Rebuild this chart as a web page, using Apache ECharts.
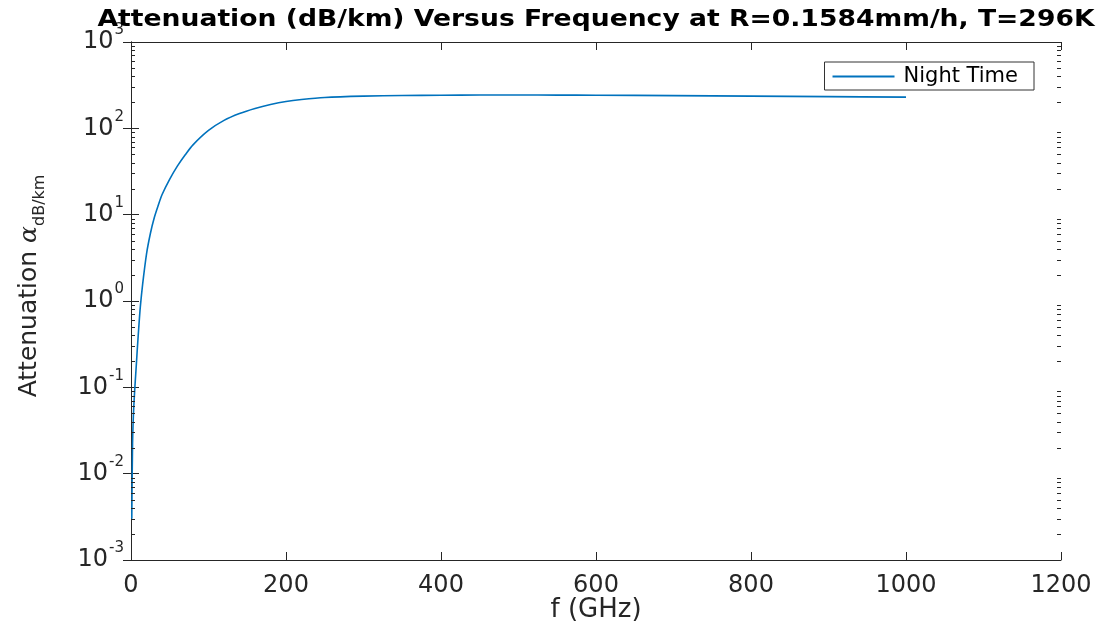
<!DOCTYPE html>
<html><head><meta charset="utf-8">
<script src="https://cdn.jsdelivr.net/npm/echarts@6/dist/echarts.min.js"></script>
<style>html,body{margin:0;padding:0;background:#fff}#c{width:1103px;height:626px}</style>
</head><body><div id="c"></div>
<script>
const freqGHz = [1,2,3,4,5,6,7,8,10,12,15,20,25,30,35,40,50,60,70,80,100,120,140,160,180,200,220,250,300,350,400,450,500,550,600,700,800,900,1000];
const nightAtten = [0.003,0.022,0.045,0.07,0.1,0.138,0.19,0.266,0.49,0.85,1.56,3.5,6.05,9.2,12.7,17,25.8,36.7,49.4,64.4,94.6,123.6,148.5,170,189,205,216,228,236,240,242,243,243,242.5,242,239,236,233,230];
const xTicks = [0,200,400,600,800,1000,1200];
const yDecades = [-3,-2,-1,0,1,2,3];
const seriesName = 'Night Time';
const titleText = 'Attenuation (dB/km) Versus Frequency at R=0.1584mm/h, T=296K';

const minorVals = [];
for (let e = -3; e < 3; e++) for (let m = 2; m <= 9; m++) minorVals.push([0, m * Math.pow(10, e)]);

const FONT = 'DejaVu Sans';
const AX = '#262626';
const chart = echarts.init(document.getElementById('c'));
const lineData = freqGHz.map((f, i) => [f, nightAtten[i]]);

chart.setOption({
  animation: false,
  backgroundColor: '#fff',
  graphic: [{
    type: 'text', x: 596, y: 20, scaleX: 1.157, z: 10,
    style: {text: titleText, align: 'center', verticalAlign: 'middle',
      fontFamily: FONT, fontWeight: 'bold', fontSize: 23, fill: '#000'}
  }],
  legend: {
    data: [seriesName], right: 69, top: 62, orient: 'vertical',
    itemWidth: 62, itemHeight: 2, itemGap: 0,
    icon: 'rect',
    borderColor: '#333', borderWidth: 1, padding: [4, 16, 3, 8], borderRadius: 0,
    backgroundColor: '#fff',
    textStyle: {fontFamily: FONT, fontSize: 21, color: '#000', padding: [0, 0, 0, 4]}
  },
  grid: {left: 131, right: 42, top: 42, bottom: 66, containLabel: false, outerBoundsMode: 'none'},
  xAxis: [{
    type: 'value', min: 0, max: 1200, interval: 200,
    name: 'f (GHz)', nameLocation: 'middle', nameGap: 37, nameMoveOverlap: false,
    nameTextStyle: {fontFamily: FONT, fontSize: 26, color: AX},
    axisLine: {lineStyle: {color: AX, width: 1}},
    axisTick: {inside: true, length: 8, lineStyle: {color: AX}},
    axisLabel: {fontFamily: FONT, fontSize: 24, color: AX, margin: 14,
      formatter: v => xTicks.includes(v) ? String(v) : ''},
    splitLine: {show: false}
  }, {
    type: 'value', min: 0, max: 1200, interval: 200, position: 'top',
    axisLine: {lineStyle: {color: AX, width: 1}},
    axisTick: {inside: true, length: 8, lineStyle: {color: AX}},
    axisLabel: {show: false}, splitLine: {show: false}
  }],
  yAxis: [{
    type: 'log', logBase: 10, min: 0.001, max: 1000, interval: 1,
    name: '{n|Attenuation }{a|α}{s|dB/km}', nameLocation: 'middle', nameGap: 83, nameRotate: 90,
    nameTextStyle: {fontFamily: FONT, color: AX, padding: [0, 0, 0, 30], rich: {
      n: {fontFamily: FONT, fontSize: 25, color: AX},
      a: {fontFamily: 'DejaVu Serif', fontStyle: 'italic', fontSize: 25, color: AX},
      s: {fontFamily: FONT, fontSize: 16, color: AX, padding: [22, 0, 0, 0]}
    }},
    axisLine: {lineStyle: {color: AX, width: 1}},
    axisTick: {inside: true, length: 8, lineStyle: {color: AX}},
    axisLabel: {margin: 7, color: AX,
      formatter: v => { const e = Math.round(Math.log10(v)); return yDecades.includes(e) ? '{b|10}{s|' + e + '}' : ''; },
      rich: {
        b: {fontFamily: FONT, fontSize: 24, color: AX},
        s: {fontFamily: FONT, fontSize: 15, color: AX, padding: [0, 0, 23, 1]}
      }},
    splitLine: {show: false}
  }, {
    type: 'log', logBase: 10, min: 0.001, max: 1000, interval: 1, position: 'right',
    axisLine: {lineStyle: {color: AX, width: 1}},
    axisTick: {inside: true, length: 8, lineStyle: {color: AX}},
    axisLabel: {show: false}, splitLine: {show: false}
  }],
  series: [{
    name: seriesName, type: 'line', data: lineData, xAxisIndex: 0, yAxisIndex: 0,
    showSymbol: false, smooth: 0.3, color: '#0072BD',
    lineStyle: {width: 1.6, color: '#0072BD'}, z: 3
  }, {
    name: 'minor', type: 'custom', data: minorVals, xAxisIndex: 0, yAxisIndex: 0,
    silent: true, z: 4,
    renderItem: (params, api) => {
      const y = Math.round(api.coord([0, api.value(1)])[1]) + 0.5;
      const cs = params.coordSys;
      const st = {stroke: AX, lineWidth: 1};
      return {type: 'group', children: [
        {type: 'line', shape: {x1: cs.x, y1: y, x2: cs.x + 4, y2: y}, style: st},
        {type: 'line', shape: {x1: cs.x + cs.width - 4, y1: y, x2: cs.x + cs.width, y2: y}, style: st}
      ]};
    }
  }]
});
</script></body></html>
